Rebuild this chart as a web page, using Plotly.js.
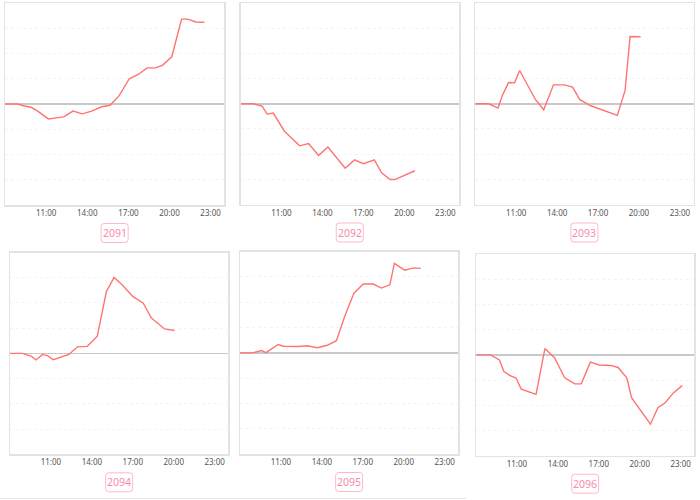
<!DOCTYPE html>
<html><head><meta charset="utf-8">
<script src="https://cdn.plot.ly/plotly-3.0.1.min.js"></script>
<style>html,body{margin:0;padding:0;background:#fff}#c{width:700px;height:500px}</style>
</head><body><div id="c"></div>
<script>
// ---- data ----
const panelNames = ['2091', '2092', '2093', '2094', '2095', '2096'];
const tickLabels = ['11:00', '14:00', '17:00', '20:00', '23:00'];

const t2091 = ['08:00','08:55','09:24','09:54','10:23','11:10','11:44','12:17','12:58','13:38','14:19','15:03','15:40','16:20','17:04','17:45','18:22','18:59','19:29','20:10','20:53','21:20','21:56','22:33'];
const v2091 = [0,0,-0.08,-0.13,-0.28,-0.59,-0.55,-0.51,-0.28,-0.39,-0.28,-0.11,-0.05,0.33,1.0,1.18,1.43,1.43,1.53,1.87,3.36,3.36,3.25,3.24];

const t2092 = ['08:00','08:56','09:35','09:57','10:24','11:13','12:20','12:59','13:43','14:24','15:40','16:21','17:00','17:48','18:20','18:57','19:18','20:46'];
const v2092 = [0,0,-0.09,-0.41,-0.37,-1.09,-1.67,-1.58,-2.05,-1.72,-2.56,-2.23,-2.38,-2.23,-2.74,-3.01,-3.01,-2.66];

const t2093 = ['08:00','08:59','09:40','09:59','10:26','10:53','11:15','11:51','12:25','13:01','13:44','14:32','15:08','15:40','16:28','18:25','18:59','19:21','20:07'];
const v2093 = [0,0,-0.17,0.33,0.84,0.83,1.32,0.71,0.16,-0.24,0.75,0.75,0.66,0.16,-0.08,-0.46,0.53,2.67,2.66];

const t2094 = ['08:00','08:55','09:35','09:54','10:23','10:45','11:10','12:19','12:57','13:40','14:24','15:04','15:38','16:15','17:00','17:46','18:22','18:44','19:20','20:04'];
const v2094 = [0,0,-0.12,-0.26,-0.04,-0.09,-0.25,-0.04,0.26,0.28,0.68,2.46,3.01,2.7,2.26,1.99,1.4,1.23,0.97,0.91];

const t2095 = ['08:00','08:55','09:35','09:54','10:48','11:10','12:16','12:55','13:40','14:24','15:04','15:41','16:21','17:02','17:46','18:22','18:59','19:19','20:04','20:45','21:15'];
const v2095 = [0,0,0.09,0.01,0.33,0.26,0.25,0.28,0.2,0.3,0.48,1.46,2.36,2.72,2.72,2.56,2.69,3.54,3.27,3.36,3.34];

const t2096 = ['08:00','09:04','09:43','10:02','10:28','10:56','11:19','12:24','13:03','13:46','14:30','15:14','15:43','16:23','17:02','17:53','18:25','19:03','19:24','20:03','20:47','21:20','21:52','22:28','23:07'];
const v2096 = [0,0,-0.2,-0.65,-0.81,-0.92,-1.36,-1.57,0.25,-0.12,-0.91,-1.15,-1.15,-0.29,-0.4,-0.42,-0.5,-0.91,-1.7,-2.18,-2.75,-2.1,-1.9,-1.51,-1.22];

const seriesTimes = [t2091, t2092, t2093, t2094, t2095, t2096];
const seriesValues = [v2091, v2092, v2093, v2094, v2095, v2096];

// ---- layout helpers ----
const W = 700, H = 500;
const day = t => (t === '24:00' ? '2024-01-02 00:00' : '2024-01-01 ' + t);
// panel frames in pixels: [left, right, top, bottom]
const frames = [
  [5, 224.3, 3, 205],
  [240.5, 459, 3, 204.5],
  [475.3, 693.5, 3, 204.5],
  [10, 228.3, 252.5, 454.3],
  [240, 458.3, 251.7, 454],
  [476, 694.3, 254, 455.7]
];

const lineColor = '#ff7373';
const data = [];
const layout = {
  width: W, height: H,
  margin: {l: 0, r: 0, t: 0, b: 0},
  paper_bgcolor: '#ffffff', plot_bgcolor: '#ffffff',
  showlegend: false,
  font: {family: 'Noto Sans, DejaVu Sans, sans-serif', color: '#555'},
  annotations: [],
  shapes: [{
    type: 'line', xref: 'paper', yref: 'paper',
    x0: 0, x1: 466 / W, y0: 1 - 498.5 / H, y1: 1 - 498.5 / H,
    line: {color: '#e6e6e6', width: 1}
  }]
};

function roundRectPath(cx, cy, w, h, r) {
  const x0 = cx - w / 2, x1 = cx + w / 2, y0 = cy - h / 2, y1 = cy + h / 2;
  const px = x => (x / W).toFixed(5), py = y => (1 - y / H).toFixed(5);
  return `M ${px(x0 + r)} ${py(y0)} L ${px(x1 - r)} ${py(y0)} Q ${px(x1)} ${py(y0)} ${px(x1)} ${py(y0 + r)} ` +
         `L ${px(x1)} ${py(y1 - r)} Q ${px(x1)} ${py(y1)} ${px(x1 - r)} ${py(y1)} ` +
         `L ${px(x0 + r)} ${py(y1)} Q ${px(x0)} ${py(y1)} ${px(x0)} ${py(y1 - r)} ` +
         `L ${px(x0)} ${py(y0 + r)} Q ${px(x0)} ${py(y0)} ${px(x0 + r)} ${py(y0)} Z`;
}

frames.forEach((f, i) => {
  const n = i === 0 ? '' : String(i + 1);
  data.push({
    type: 'scatter', mode: 'lines',
    x: seriesTimes[i].map(day), y: seriesValues[i],
    xaxis: 'x' + n, yaxis: 'y' + n,
    line: {color: lineColor, width: 1.4},
    hoverinfo: 'skip'
  });
  layout['xaxis' + n] = {
    type: 'date',
    domain: [f[0] / W, f[1] / W],
    range: [day('08:00'), day('24:00')],
    tickvals: tickLabels.map(day), ticktext: tickLabels,
    showgrid: false, zeroline: false,
    showline: true, mirror: true, linecolor: '#e3e3e3', linewidth: 1.5,
    ticks: '', tickfont: {size: 8, color: '#555'},
    anchor: 'y' + n, fixedrange: true
  };
  layout['yaxis' + n] = {
    domain: [1 - f[3] / H, 1 - f[2] / H],
    range: [-4, 4], dtick: 1, tick0: 0,
    showticklabels: false, ticks: '',
    showgrid: true, gridcolor: '#f4f4f4', griddash: 'dot', gridwidth: 1,
    zeroline: true, zerolinecolor: '#c9c9c9', zerolinewidth: 1.5,
    showline: true, mirror: true, linecolor: '#e3e3e3', linewidth: 1.5,
    anchor: 'x' + n, fixedrange: true
  };
  const cx = (f[0] + f[1]) / 2, cy = f[3] + 28;
  layout.shapes.push({
    type: 'path', xref: 'paper', yref: 'paper',
    path: roundRectPath(cx, cy, 27, 19, 3),
    line: {color: '#ffb8c9', width: 1}, fillcolor: 'rgba(0,0,0,0)'
  });
  layout.annotations.push({
    xref: 'paper', yref: 'paper', x: cx / W, y: 1 - cy / H,
    text: panelNames[i], showarrow: false,
    font: {size: 10.5, color: '#f98aa8', family: 'Noto Sans, DejaVu Sans, sans-serif'},
    xanchor: 'center', yanchor: 'middle'
  });
});

Plotly.newPlot('c', data, layout, {staticPlot: true, displayModeBar: false});
</script></body></html>
